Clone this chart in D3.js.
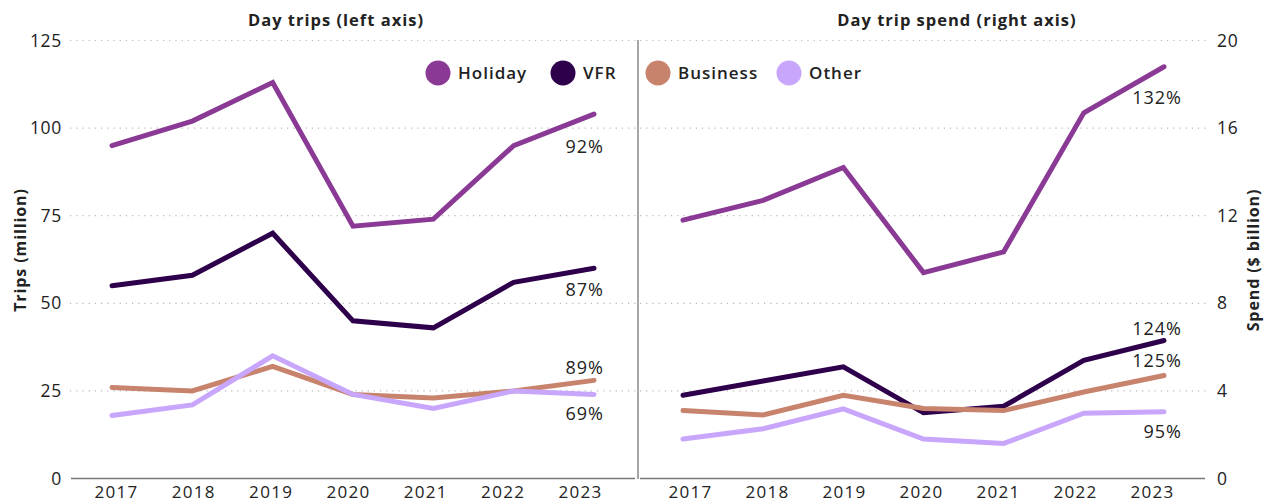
<!DOCTYPE html>
<html>
<head>
<meta charset="utf-8">
<script src="https://cdn.jsdelivr.net/npm/d3@7"></script>
<style>
  html, body { margin: 0; padding: 0; background: #fff; }
  svg { display: block; font-family: "Open Sans", sans-serif; }
</style>
</head>
<body>
<svg id="chart" width="1268" height="502"></svg>
<script>
// ---------- data ----------
const years = [2017, 2018, 2019, 2020, 2021, 2022, 2023];
const seriesNames = ["Holiday", "VFR", "Business", "Other"];

const tripsHoliday  = [95, 102, 113, 72, 74, 95, 104];
const tripsVFR      = [55, 58, 70, 45, 43, 56, 60];
const tripsBusiness = [26, 25, 32, 24, 23, 25, 28];
const tripsOther    = [18, 21, 35, 24, 20, 25, 24];

const spendHoliday  = [11.8, 12.7, 14.2, 9.4, 10.35, 16.7, 18.8];
const spendVFR      = [3.8, 4.45, 5.1, 3.0, 3.3, 5.4, 6.3];
const spendBusiness = [3.1, 2.9, 3.8, 3.2, 3.1, 3.95, 4.7];
const spendOther    = [1.8, 2.27, 3.18, 1.8, 1.6, 2.98, 3.05];

const tripsEndLabels = ["92%", "87%", "89%", "69%"];
const spendEndLabels = ["132%", "124%", "125%", "95%"];

const tripsTicks = [0, 25, 50, 75, 100, 125];
const spendTicks = [0, 4, 8, 12, 16, 20];

const panelTitles = ["Day trips (left axis)", "Day trip spend (right axis)"];
const axisTitles = ["Trips (million)", "Spend ($ billion)"];

// ---------- styling ----------
const colors = ["#8a3a94", "#2e004b", "#c8836d", "#c8a6fc"];
const textColor = "#222";
const gridColor = "#b8b8b8";
const axisColor = "#777";

const svg = d3.select("#chart");

const yTop = 40.5, yBottom = 478.5;

const panels = [
  {
    series: [tripsHoliday, tripsVFR, tripsBusiness, tripsOther],
    labels: tripsEndLabels,
    ticks: tripsTicks,
    max: 125,
    axisX0: 71, axisX1: 635,
    gridX0: 70, gridX1: 636,
    pointRange: [112, 594],
    labelRange: [116, 580],
    labelDx: 10,
    labelDy: [32, 21, -13, 19],
    title: panelTitles[0], titleX: 336,
    side: "left"
  },
  {
    series: [spendHoliday, spendVFR, spendBusiness, spendOther],
    labels: spendEndLabels,
    ticks: spendTicks,
    max: 20,
    axisX0: 640, axisX1: 1205,
    gridX0: 640, gridX1: 1206,
    pointRange: [683, 1164],
    labelRange: [690, 1152],
    labelDx: 18,
    labelDy: [31, -12, -15, 20],
    title: panelTitles[1], titleX: 957,
    side: "right"
  }
];

panels.forEach((p, pi) => {
  const x = d3.scalePoint().domain(years).range(p.pointRange);
  const xl = d3.scalePoint().domain(years).range(p.labelRange);
  const y = d3.scaleLinear().domain([0, p.max]).range([yBottom, yTop]);

  // gridlines
  const g = svg.append("g");
  g.selectAll("line.grid")
    .data(p.ticks.filter(t => t > 0))
    .join("line")
    .attr("x1", p.gridX0).attr("x2", p.gridX1)
    .attr("y1", d => y(d)).attr("y2", d => y(d))
    .attr("stroke", gridColor)
    .attr("stroke-width", 1.2)
    .attr("stroke-dasharray", "1.2,5");

  // y tick labels
  const yAxis = (p.side === "left" ? d3.axisLeft(y) : d3.axisRight(y))
    .tickValues(p.ticks).tickSize(0).tickPadding(0);
  const ya = svg.append("g")
    .attr("transform", `translate(${p.side === "left" ? 62 : 1217},0)`)
    .call(yAxis);
  ya.select(".domain").remove();
  ya.selectAll("text")
    .attr("fill", textColor)
    .style("font-size", "17.5px")
    .style("letter-spacing", "0.7px")
    .style("font-family", "'Open Sans', sans-serif");

  // x axis line
  svg.append("line")
    .attr("x1", p.axisX0).attr("x2", p.axisX1)
    .attr("y1", yBottom).attr("y2", yBottom)
    .attr("stroke", axisColor).attr("stroke-width", 1.6);

  // x tick labels
  const xAxis = d3.axisBottom(xl).tickSize(0).tickPadding(0);
  const xa = svg.append("g")
    .attr("transform", `translate(0,${yBottom + 7})`)
    .call(xAxis);
  xa.select(".domain").remove();
  xa.selectAll("text")
    .attr("fill", textColor)
    .attr("dy", "0.71em")
    .style("font-size", "17px")
    .style("letter-spacing", "1.3px")
    .style("font-family", "'Open Sans', sans-serif");

  // lines
  const line = d3.line().x((d, i) => x(years[i])).y(d => y(d));
  svg.append("g").selectAll("path")
    .data(p.series)
    .join("path")
    .attr("d", d => line(d))
    .attr("fill", "none")
    .attr("stroke", (d, i) => colors[i])
    .attr("stroke-width", 5)
    .attr("stroke-linecap", "round")
    .attr("stroke-linejoin", "miter");

  // end labels
  svg.append("g").selectAll("text")
    .data(p.series)
    .join("text")
    .attr("x", x(years[years.length - 1]) + p.labelDx)
    .attr("y", (d, i) => y(d[d.length - 1]) + p.labelDy[i])
    .attr("dy", "0.36em")
    .attr("text-anchor", "end")
    .attr("fill", textColor)
    .style("font-size", "18px")
    .style("font-weight", 500)
    .style("letter-spacing", "1px")
    .text((d, i) => p.labels[i]);

  // panel title
  svg.append("text")
    .attr("x", p.titleX).attr("y", 20)
    .attr("dy", "0.36em")
    .attr("text-anchor", "middle")
    .attr("fill", textColor)
    .style("font-size", "16.5px")
    .style("font-weight", 700)
    .style("letter-spacing", "1px")
    .text(p.title);
});

// vertical divider
svg.append("line")
  .attr("x1", 638).attr("x2", 638)
  .attr("y1", 40).attr("y2", 479)
  .attr("stroke", "#888").attr("stroke-width", 1.5);

// axis titles
svg.append("text")
  .attr("transform", "translate(20,250) rotate(-90)")
  .attr("dy", "0.36em")
  .attr("text-anchor", "middle")
  .attr("fill", textColor)
  .style("font-size", "16px")
  .style("font-weight", 700)
  .style("letter-spacing", "0.9px")
  .text(axisTitles[0]);

svg.append("text")
  .attr("transform", "translate(1253,260) rotate(-90)")
  .attr("dy", "0.36em")
  .attr("text-anchor", "middle")
  .attr("fill", textColor)
  .style("font-size", "16px")
  .style("font-weight", 700)
  .style("letter-spacing", "0.9px")
  .text(axisTitles[1]);

// legend
const legendX = [438, 563, 658, 789];
const legend = svg.append("g").selectAll("g")
  .data(seriesNames)
  .join("g")
  .attr("transform", (d, i) => `translate(${legendX[i]},73)`);
legend.append("circle")
  .attr("r", 12.5)
  .attr("fill", (d, i) => colors[i]);
legend.append("text")
  .attr("x", 20)
  .attr("dy", "0.36em")
  .attr("fill", textColor)
  .style("font-size", "17px")
  .style("font-weight", 600)
  .style("letter-spacing", "1px")
  .text(d => d);
</script>
</body>
</html>
